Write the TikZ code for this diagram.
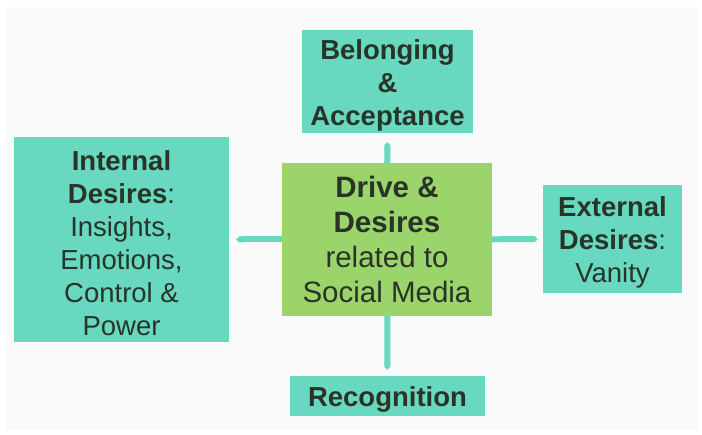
\documentclass[tikz,border=0pt]{standalone}
\usepackage{fontspec}
\setmainfont{Liberation Sans}
\usetikzlibrary{arrows.meta}

\definecolor{tealbox}{RGB}{104,216,193}
\definecolor{greenbox}{RGB}{155,212,106}
\definecolor{boxtext}{RGB}{40,52,40}
\definecolor{panel}{RGB}{250,250,250}

\begin{document}
\begin{tikzpicture}[x=1pt,y=-1pt]
    \tikzstyle{every node}+=[inner sep=0pt, align=center, text=boxtext]
    \tikzstyle{outer}=[fill=tealbox]
    \tikzstyle{outertext}=[font=\fontsize{27.5}{33}\selectfont, yshift=-3.5pt]
    \tikzstyle{core}=[fill=greenbox, font=\fontsize{29.5}{35}\selectfont]
    \tikzstyle{link}=[draw=tealbox, line width=6pt, -{Triangle Cap[]}]
    \useasboundingbox (0,0) rectangle (702,435);
    \fill [panel] (6,7) rectangle (698,430);
    % boxes
    \node [core, minimum width=210, minimum height=153] (drive) at (387,239.5) {\textbf{Drive \&}\\\textbf{Desires}\\related to\\Social Media};
    \node [outer, minimum width=171, minimum height=103, label={[outertext]center:\textbf{Belonging}\\\textbf{\&}\\\textbf{Acceptance}}] (belong) at (387.5,81.5) {};
    \node [outer, minimum width=215, minimum height=205, label={[outertext]center:\textbf{Internal}\\\textbf{Desires}:\\Insights,\\Emotions,\\Control \&\\Power}] (internal) at (121.5,239.5) {};
    \node [outer, minimum width=139, minimum height=108, label={[outertext]center:\textbf{External}\\\textbf{Desires}:\\Vanity}] (external) at (612.5,239) {};
    \node [outer, minimum width=195, minimum height=40, label={[outertext]center:\textbf{Recognition}}] (recog) at (387.5,396) {};
    % links
    \draw [link, shorten >=9pt] (drive) -- (belong);
    \draw [link, shorten >=7pt] (drive) -- (internal);
    \draw [link, shorten >=5pt] (drive) -- (external);
    \draw [link, shorten >=6pt] (drive) -- (recog);
\end{tikzpicture}
\end{document}
